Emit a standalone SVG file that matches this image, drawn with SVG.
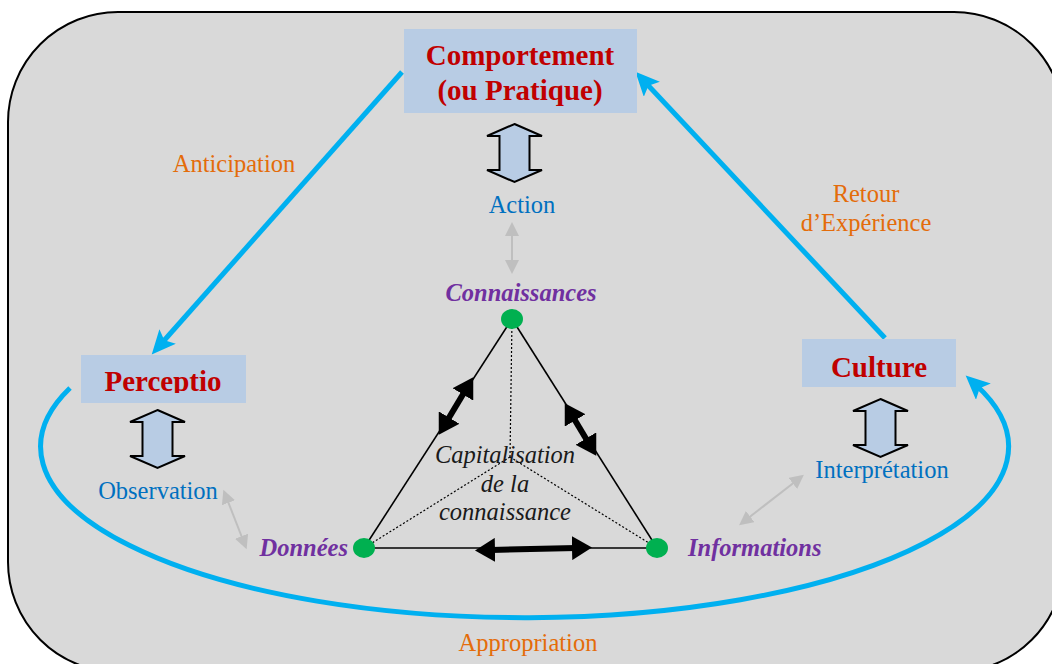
<svg xmlns="http://www.w3.org/2000/svg" width="1052" height="664" viewBox="0 0 1052 664">
<style>
.title{font-family:"Liberation Serif",serif;font-weight:bold;font-size:29px;fill:#c00000;text-anchor:middle}
.blue{font-family:"Liberation Serif",serif;font-size:24.5px;fill:#0070c0;text-anchor:middle}
.orange{font-family:"Liberation Serif",serif;font-size:24.5px;fill:#e46c0a;text-anchor:middle}
.purple{font-family:"Liberation Serif",serif;font-weight:bold;font-style:italic;font-size:24.5px;fill:#7030a0}
.cap{font-family:"Liberation Serif",serif;font-style:italic;font-size:24.5px;fill:#1a1a1a;text-anchor:middle}
.box{fill:#b8cce4}
.blk{fill:#b8cce4;stroke:#000;stroke-width:2;stroke-linejoin:miter}
.bl{fill:none;stroke:#00b0f0;stroke-width:5}
.gr{fill:none;stroke:#bfbfbf;stroke-width:2}
.thick{fill:none;stroke:#000;stroke-width:6}
.edge{fill:none;stroke:#000;stroke-width:1.6}
.dot{fill:none;stroke:#000;stroke-width:1.2;stroke-dasharray:2 2}
.node{fill:#00b050}
</style>
<defs>
<marker id="ab" markerUnits="userSpaceOnUse" markerWidth="26" markerHeight="24" refX="10" refY="11" orient="auto">
<path d="M0,0 L24,11 L0,22 L5,11 Z" fill="#00b0f0"/>
</marker>
<marker id="ag" markerUnits="userSpaceOnUse" markerWidth="16" markerHeight="14" refX="4" refY="7" orient="auto-start-reverse">
<path d="M0,0 L14,7 L0,14 Z" fill="#bfbfbf"/>
</marker>
<marker id="ak" markerUnits="userSpaceOnUse" markerWidth="22" markerHeight="24" refX="4" refY="12" orient="auto-start-reverse">
<path d="M0,0 L20,12 L0,24 Z" fill="#000"/>
</marker>
<path id="dbl" d="M0,0 L27.5,12 L15,12 L15,46 L27.5,46 L0,58 L-27.5,46 L-15,46 L-15,12 L-27.5,12 Z"/>
<clipPath id="pclip"><rect x="81" y="355" width="165" height="38"/></clipPath>
</defs>

<rect x="8" y="12" width="1056" height="660" rx="110" ry="110" fill="#d9d9d9" stroke="#000" stroke-width="2"/>

<g id="connectors">
<path class="bl" d="M402,72 L161,344" marker-end="url(#ab)"/>
<path class="bl" d="M885,338 L645,82" marker-end="url(#ab)"/>
<path class="bl" d="M70,388 A484 171 0 1 0 976 385" marker-end="url(#ab)"/>
<line class="gr" x1="512" y1="232" x2="512" y2="264" marker-start="url(#ag)" marker-end="url(#ag)"/>
<line class="gr" x1="227" y1="499" x2="243" y2="540" marker-start="url(#ag)" marker-end="url(#ag)"/>
<line class="gr" x1="747" y1="519" x2="796" y2="481" marker-start="url(#ag)" marker-end="url(#ag)"/>
<line class="edge" x1="512" y1="319" x2="364" y2="548"/>
<line class="edge" x1="512" y1="319" x2="657" y2="548"/>
<line class="edge" x1="364" y1="548" x2="657" y2="548"/>
<line class="dot" x1="512" y1="319" x2="510" y2="457"/>
<line class="dot" x1="510" y1="457" x2="364" y2="548"/>
<line class="dot" x1="510" y1="457" x2="657" y2="548"/>
<line class="thick" x1="447" y1="421" x2="465" y2="391" marker-start="url(#ak)" marker-end="url(#ak)"/>
<line class="thick" x1="573" y1="417" x2="588" y2="442" marker-start="url(#ak)" marker-end="url(#ak)"/>
<line class="thick" x1="491" y1="550" x2="576" y2="548" marker-start="url(#ak)" marker-end="url(#ak)"/>
</g>

<g id="comportement">
<rect class="box" x="404" y="29" width="233" height="84"/>
<text class="title" x="520" y="65">Comportement</text>
<text class="title" x="520" y="100">(ou Pratique)</text>
<use href="#dbl" class="blk" x="514.5" y="124"/>
<text class="blue" x="522" y="213">Action</text>
</g>

<g id="perception">
<rect class="box" x="81" y="355" width="165" height="48"/>
<text class="title" x="163" y="391" clip-path="url(#pclip)">Perceptio</text>
<use href="#dbl" class="blk" x="157.5" y="410"/>
<text class="blue" x="158" y="499">Observation</text>
</g>

<g id="culture">
<rect class="box" x="802" y="339" width="154" height="48"/>
<text class="title" x="879" y="377">Culture</text>
<use href="#dbl" class="blk" x="880.5" y="399"/>
<text class="blue" x="882" y="478">Interprétation</text>
</g>

<g id="connaissances">
<ellipse class="node" cx="512" cy="319" rx="11" ry="10"/>
<text class="purple" x="521" y="301" text-anchor="middle">Connaissances</text>
</g>
<g id="donnees">
<ellipse class="node" cx="364" cy="548" rx="11" ry="10"/>
<text class="purple" x="348" y="556" text-anchor="end">Données</text>
</g>
<g id="informations">
<ellipse class="node" cx="657" cy="548" rx="11" ry="10"/>
<text class="purple" x="688" y="556">Informations</text>
</g>

<g id="capitalisation">
<text class="cap" x="505" y="463">Capitalisation</text>
<text class="cap" x="505" y="492">de la</text>
<text class="cap" x="505" y="520">connaissance</text>
</g>

<g id="labels">
<text class="orange" x="234" y="172">Anticipation</text>
<text class="orange" x="866" y="202">Retour</text>
<text class="orange" x="866" y="231">d’Expérience</text>
<text class="orange" x="528" y="651">Appropriation</text>
</g>
</svg>
